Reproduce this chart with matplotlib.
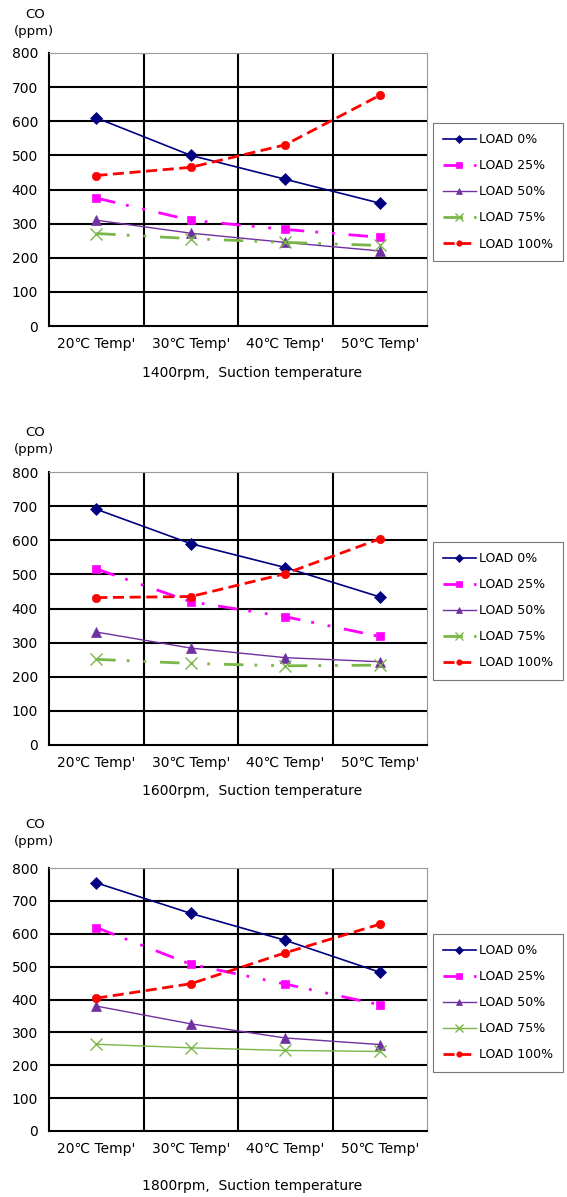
import matplotlib
matplotlib.use('Agg')
import matplotlib.pyplot as plt
import numpy as np

plt.rcParams['font.family'] = ['DejaVu Sans', 'Noto Sans CJK KR']

# 흡입온도별 CO 배출 (rpm 3가지)
categories = ["20℃ Temp'", "30℃ Temp'", "40℃ Temp'", "50℃ Temp'"]
series_names = ['LOAD 0%', 'LOAD 25%', 'LOAD 50%', 'LOAD 75%', 'LOAD 100%']
rpm_titles = ['1400rpm,  Suction temperature',
              '1600rpm,  Suction temperature',
              '1800rpm,  Suction temperature']

co_1400 = [
    [610, 500, 430, 360],
    [375, 310, 283, 260],
    [310, 272, 245, 220],
    [271, 256, 245, 236],
    [441, 465, 531, 676],
]
co_1600 = [
    [691, 590, 520, 434],
    [516, 420, 376, 318],
    [331, 284, 256, 244],
    [251, 239, 232, 234],
    [432, 435, 502, 604],
]
co_1800 = [
    [755, 662, 580, 483],
    [619, 507, 447, 384],
    [380, 326, 283, 263],
    [264, 253, 245, 242],
    [404, 448, 542, 629],
]
all_data = [co_1400, co_1600, co_1800]

colors = ['#000080', '#FF00FF', '#7030A0', '#7AB648', '#FF0000']
markers = ['D', 's', '^', 'x', 'o']
msizes = [6, 6, 7, 8, 6]
dashdotdot = (0, (7, 4, 1, 5, 1, 5))
styles = [
    ['-', dashdotdot, '-', dashdotdot, (0, (4, 2))],
    ['-', dashdotdot, '-', dashdotdot, (0, (4, 2))],
    ['-', dashdotdot, '-', '-', (0, (4, 2))],
]
widths = [
    [1.2, 2.0, 1.0, 2.0, 2.0],
    [1.2, 2.0, 1.0, 2.0, 2.0],
    [1.2, 2.0, 1.0, 1.0, 2.0],
]

W, H = 567, 1197
fig = plt.figure(figsize=(W / 100, H / 100), dpi=100)

# (top, bottom) in pixels for each panel
ax_px = [(53, 326), (472, 745), (868, 1131)]
legend_px = [(123, 258), (542, 679), (934, 1066)]
co_px = [14, 433, 824]
xlabel_px = [373, 791, 1186]

x = np.arange(len(categories)) + 0.5

for k, data in enumerate(all_data):
    top, bot = ax_px[k]
    ax = fig.add_axes([49 / W, 1 - bot / H, 378 / W, (bot - top) / H])
    lines = []
    for i, vals in enumerate(data):
        ln, = ax.plot(x, vals, color=colors[i], linestyle=styles[k][i],
                      linewidth=widths[k][i], marker=markers[i],
                      markersize=msizes[i],
                      markeredgewidth=1.0 if markers[i] == 'x' else 0.5,
                      label=series_names[i], zorder=3)
        lines.append(ln)

    ax.set_xlim(0, 4)
    ax.set_ylim(0, 800)
    ax.set_yticks(range(0, 801, 100))
    ax.set_xticks(x)
    ax.set_xticklabels(categories, fontsize=10)
    ax.tick_params(axis='y', labelsize=10, length=0, pad=8)
    ax.tick_params(axis='x', length=0, pad=8)
    for v in range(100, 800, 100):
        ax.axhline(v, color='black', linewidth=1.5, zorder=1)
    for v in [1, 2, 3]:
        ax.axvline(v, color='black', linewidth=1.5, zorder=1)
    ax.spines['left'].set_linewidth(1.5)
    ax.spines['bottom'].set_linewidth(1.5)
    ax.spines['top'].set_color('#999999')
    ax.spines['right'].set_color('#999999')

    fig.text(35 / W, 1 - co_px[k] / H, 'CO', ha='center', va='center', fontsize=9.5)
    fig.text(34 / W, 1 - (co_px[k] + 17) / H, '(ppm)', ha='center', va='center', fontsize=9.5)
    fig.text(252 / W, 1 - xlabel_px[k] / H, rpm_titles[k], ha='center', va='center', fontsize=10)

    lt, lb = legend_px[k]
    leg = fig.legend(handles=lines, loc='upper left',
                     bbox_to_anchor=(433 / W, 1 - lt / H), borderaxespad=0,
                     fontsize=9, frameon=True, fancybox=False,
                     edgecolor='#555555', handlelength=2.6, labelspacing=1.05,
                     borderpad=0.8, handletextpad=0.3, markerscale=0.65)
    leg.get_frame().set_linewidth(0.8)

fig.savefig('out.png', dpi=100)
